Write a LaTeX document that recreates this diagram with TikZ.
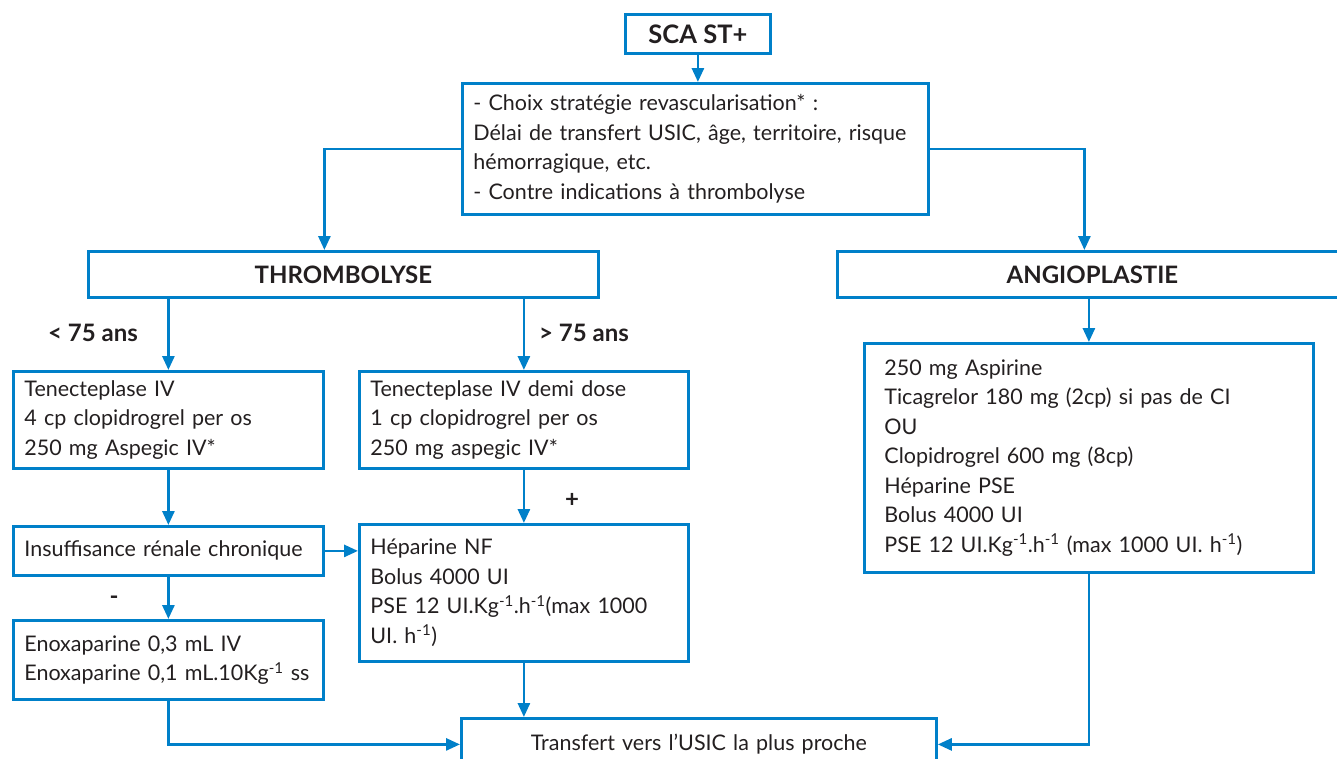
\documentclass[tikz,border=0pt]{standalone}
\usepackage{fontspec}
\setmainfont{Lato}
\usetikzlibrary{arrows.meta,calc}
\definecolor{bl}{RGB}{0,128,201}
\definecolor{tx}{RGB}{35,31,32}
\begin{document}
\begin{tikzpicture}[x=1pt,y=-1pt,
  box/.style={draw=bl,line width=2.8pt,anchor=north west,inner xsep=11pt,inner ysep=0pt,text=tx,font=\fontsize{21.5}{29.5}\selectfont,align=left},
  ttl/.style={draw=bl,line width=2.8pt,anchor=north west,inner sep=0pt,text=tx,align=center,font=\fontsize{24}{28}\selectfont\bfseries},
  arr/.style={draw=bl,line width=2.8pt,-{Triangle[length=14pt,width=12pt]}},
  lbl/.style={text=tx,font=\fontsize{24}{28}\selectfont\bfseries}]
\useasboundingbox (0,0) rectangle (1337,758);

\node[ttl,minimum width=145pt,minimum height=39pt,font=\fontsize{25.5}{28}\selectfont\bfseries] (sca) at (624,13) {SCA ST+};
\node[box,text width=444pt,minimum height=131pt] (choix) at (461,82) {- Choix stratégie revascularisation* :\\Délai de transfert USIC, âge, territoire, risque\\hémorragique, etc.\\- Contre indications à thrombolyse};
\node[ttl,minimum width=510pt,minimum height=46pt] (thrombo) at (87,250) {THROMBOLYSE};
\node[ttl,minimum width=510pt,minimum height=46pt] (angiot) at (836,250) {ANGIOPLASTIE};

\node[box,text width=288pt,minimum height=97pt] (L1) at (12,370) {Tenecteplase IV\\4 cp clopidrogrel per os\\250 mg Aspegic IV*};
\node[box,text width=307pt,minimum height=97pt] (M1) at (358,370) {Tenecteplase IV demi dose\\1 cp clopidrogrel per os\\250 mg aspegic IV*};
\node[box,text width=288pt,minimum height=49pt] (irc) at (12,525) {Insuffisance rénale chronique};
\node[box,text width=307pt,minimum height=137pt] (M2) at (358,523) {Héparine NF\\Bolus 4000 UI\\PSE 12 UI.Kg\textsuperscript{-1}.h\textsuperscript{-1}(max 1000\\UI. h\textsuperscript{-1})};
\node[box,text width=288pt,minimum height=79pt] (enox) at (12,619) {Enoxaparine 0,3 mL IV\\Enoxaparine 0,1 mL.10Kg\textsuperscript{-1} ss};
\node[box,inner xsep=20pt,text width=409pt,minimum height=229pt] (angiob) at (863,342) {250 mg Aspirine\\Ticagrelor 180 mg (2cp) si pas de CI\\OU\\Clopidrogrel 600 mg (8cp)\\Héparine PSE\\Bolus 4000 UI\\PSE 12 UI.Kg\textsuperscript{-1}.h\textsuperscript{-1} (max 1000 UI. h\textsuperscript{-1})};
\node[box,align=center,text width=453pt,minimum height=52pt] (transfert) at (460,717) {Transfert vers l’USIC la plus proche};

\node[lbl] (lt) at (93,333) {< 75 ans};
\node[lbl] (gt) at (584,333) {> 75 ans};
\node[lbl] (plus) at (572,500) {+};
\node[lbl] (minus) at (114,600) {-};

\draw[arr] (sca.south) -- (sca.south |- choix.north);
\draw[arr] (choix.west) -| ([xshift=-19pt]thrombo.north);
\draw[arr] (choix.east) -| ([xshift=-8pt]angiot.north);
\draw[arr] (L1.north |- thrombo.south) -- (L1.north);
\draw[arr] (M1.north |- thrombo.south) -- (M1.north);
\draw[arr] (L1.south) -- (irc.north);
\draw[arr] (M1.south) -- (M2.north);
\draw[arr] (irc.east) -- (irc.east -| M2.west);
\draw[arr] (irc.south) -- (enox.north);
\draw[arr] (enox.south) |- (transfert.west);
\draw[arr] (M2.south) -- (M2.south |- transfert.north);
\draw[arr] (angiot.south -| angiob.north) -- (angiob.north);
\draw[arr] (angiob.south) |- (transfert.east);
\end{tikzpicture}
\end{document}
